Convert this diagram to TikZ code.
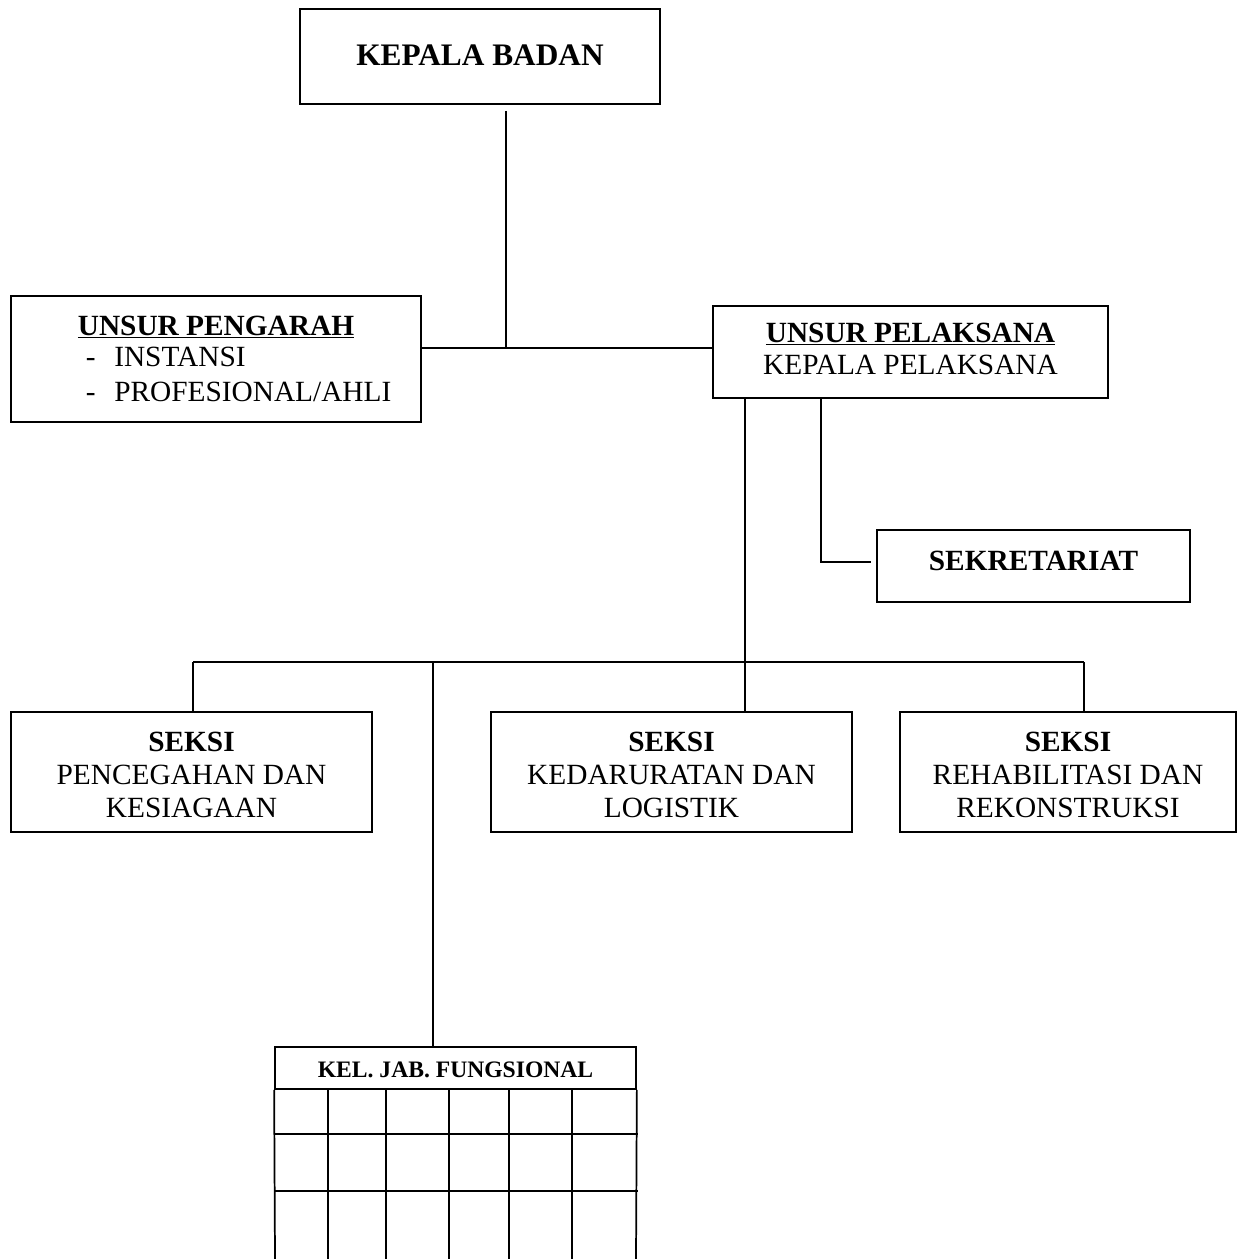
\documentclass[tikz,border=0pt]{standalone}
\usepackage{fontspec}
\setmainfont{Liberation Serif}
\begin{document}
\begin{tikzpicture}[x=0.75pt,y=-0.75pt,line width=1.3pt,
  box/.style={draw,rectangle,inner sep=0pt,line width=1.3pt},
  lbl/.style={inner sep=0pt,align=center,font=\fontsize{22}{24.5}\selectfont},
  conn/.style={line width=1.3pt}]
\useasboundingbox (0,0) rectangle (1238,1259);
% boxes
\node[box,minimum width=270pt,minimum height=71.25pt] (kb) at (480,56.5) {};
\node[lbl,font=\fontsize{23.5}{26}\selectfont\bfseries] (kbt) at (480,55) {KEPALA BADAN};

\node[box,minimum width=307.5pt,minimum height=94.5pt] (up) at (216,359) {};
\node[lbl] (upt) at (216,327) {\underline{\textbf{UNSUR PENGARAH}}};
\node[lbl,anchor=base west] (up1) at (85,366) {-\hspace*{14pt}INSTANSI};
\node[lbl,anchor=base west] (up2) at (85,401) {-\hspace*{14pt}PROFESIONAL/AHLI};

\node[box,minimum width=296.25pt,minimum height=69pt] (pel) at (910.5,352) {};
\node[lbl] (pelt) at (910.5,349) {\underline{\textbf{UNSUR PELAKSANA}}\\KEPALA PELAKSANA};

\node[box,minimum width=234.75pt,minimum height=54pt] (sek) at (1033.5,566) {};
\node[lbl,font=\fontsize{22}{24.5}\selectfont\bfseries] (sekt) at (1033.5,561) {SEKRETARIAT};

\node[box,minimum width=270.75pt,minimum height=90pt] (skL) at (191.5,772) {};
\node[lbl] (skLt) at (191.5,775) {\textbf{SEKSI}\\PENCEGAHAN DAN\\KESIAGAAN};
\node[box,minimum width=270.75pt,minimum height=90pt] (skM) at (671.5,772) {};
\node[lbl] (skMt) at (671.5,775) {\textbf{SEKSI}\\KEDARURATAN DAN\\LOGISTIK};
\node[box,minimum width=252pt,minimum height=90pt] (skR) at (1068,772) {};
\node[lbl] (skRt) at (1068,775) {\textbf{SEKSI}\\REHABILITASI DAN\\REKONSTRUKSI};

\node[box,minimum width=270.75pt,minimum height=31.5pt] (grid) at (455.5,1068) {};
\node[lbl,font=\fontsize{17.7}{20}\selectfont\bfseries] (gridt) at (455.5,1070) {KEL. JAB. FUNGSIONAL};

% junctions
\coordinate (j1) at (506,348);
\coordinate (j2) at (745,662);
\coordinate (js) at (821,562);
\coordinate (hl) at (193,662);
\coordinate (hr) at (1084,662);
\coordinate (hf) at (433,662);

% connectors
\draw[conn] ([yshift=-4.5pt]kb.south -| j1) -- (j1);
\draw[conn] (up.east |- j1) -- (pel.west |- j1);
\draw[conn] (pel.south -| j2) -- (j2);
\draw[conn] (pel.south -| js) -- (js) -- ([xshift=-4pt]sek.west |- js);
\draw[conn] (hl) -- (hr);
\draw[conn] (hl) -- (skL.north -| hl);
\draw[conn] (j2) -- (skM.north -| j2);
\draw[conn] (hr) -- (skR.north -| hr);
\draw[conn] (hf) -- (grid.north -| hf);

% table grid below header
\draw[conn] (grid.south west) -- (275,1259);
\draw[conn] (grid.south east) -- (636,1259);
\foreach \gx in {328,386,449,509,572}
  \draw[conn] (\gx,1089) -- (\gx,1259);
\foreach \gy in {1134,1191}
  \draw[conn] (275,\gy) -- (638,\gy);
\end{tikzpicture}
\end{document}
